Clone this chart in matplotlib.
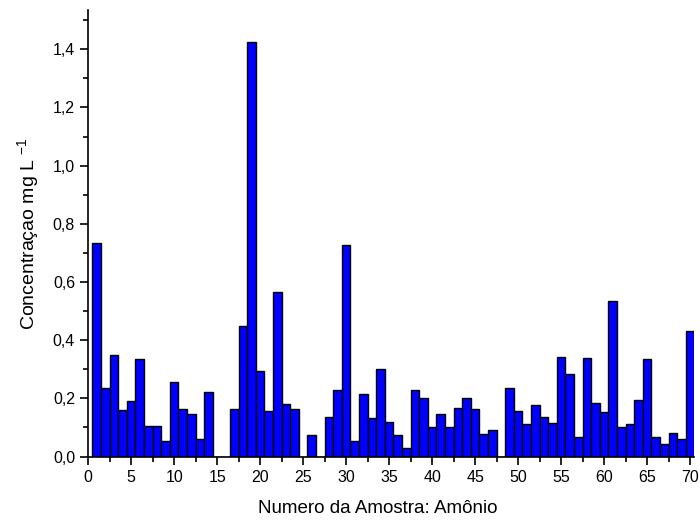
import numpy as np
import matplotlib
matplotlib.use('Agg')
import matplotlib.pyplot as plt
from matplotlib.ticker import MultipleLocator, FuncFormatter

plt.rcParams['font.family'] = ['Liberation Sans', 'DejaVu Sans']
plt.rcParams['mathtext.fontset'] = 'custom'
plt.rcParams['mathtext.rm'] = 'Liberation Sans'

amostra = np.arange(1, 71)
conc = [0.735, 0.235, 0.350, 0.160, 0.190, 0.335, 0.105, 0.105, 0.055, 0.255,
        0.165, 0.145, 0.060, 0.222, 0.0, 0.0, 0.165, 0.450, 1.425, 0.295,
        0.157, 0.567, 0.180, 0.163, 0.0, 0.075, 0.0, 0.135, 0.230, 0.727,
        0.052, 0.215, 0.133, 0.300, 0.118, 0.075, 0.030, 0.230, 0.202, 0.102,
        0.145, 0.103, 0.168, 0.200, 0.165, 0.077, 0.090, 0.0, 0.237, 0.158,
        0.113, 0.178, 0.137, 0.115, 0.343, 0.283, 0.067, 0.340, 0.185, 0.153,
        0.535, 0.100, 0.112, 0.193, 0.337, 0.067, 0.043, 0.080, 0.060, 0.432]

fig = plt.figure(figsize=(7, 5.23), dpi=100)
ax = fig.add_axes([0.126, 0.127, 0.866, 0.854])

ax.bar(amostra, conc, width=1.0, color='#0000ff', edgecolor='black', linewidth=1)

ax.set_xlim(0, 70.5)
ax.set_ylim(0, 1.535)
ax.xaxis.set_major_locator(MultipleLocator(5))
ax.xaxis.set_minor_locator(MultipleLocator(2.5))
ax.yaxis.set_major_locator(MultipleLocator(0.2))
ax.yaxis.set_minor_locator(MultipleLocator(0.1))
ax.yaxis.set_major_formatter(FuncFormatter(lambda v, p: f'{v:.1f}'.replace('.', ',')))

for s in ['top', 'right']:
    ax.spines[s].set_visible(False)
for s in ['left', 'bottom']:
    ax.spines[s].set_linewidth(1.2)

ax.tick_params(which='major', direction='out', length=6, width=1.2, labelsize=11.5)
ax.tick_params(which='minor', direction='out', length=3.5, width=1.2)

ax.set_xlabel('Numero da Amostra: Amônio', fontsize=13.5)
ax.xaxis.set_label_coords(0.477, -0.098)
ax.set_ylabel('Concentraçao mg L $^{-1}$', fontsize=14, labelpad=8)

fig.savefig('out.png', dpi=100)
